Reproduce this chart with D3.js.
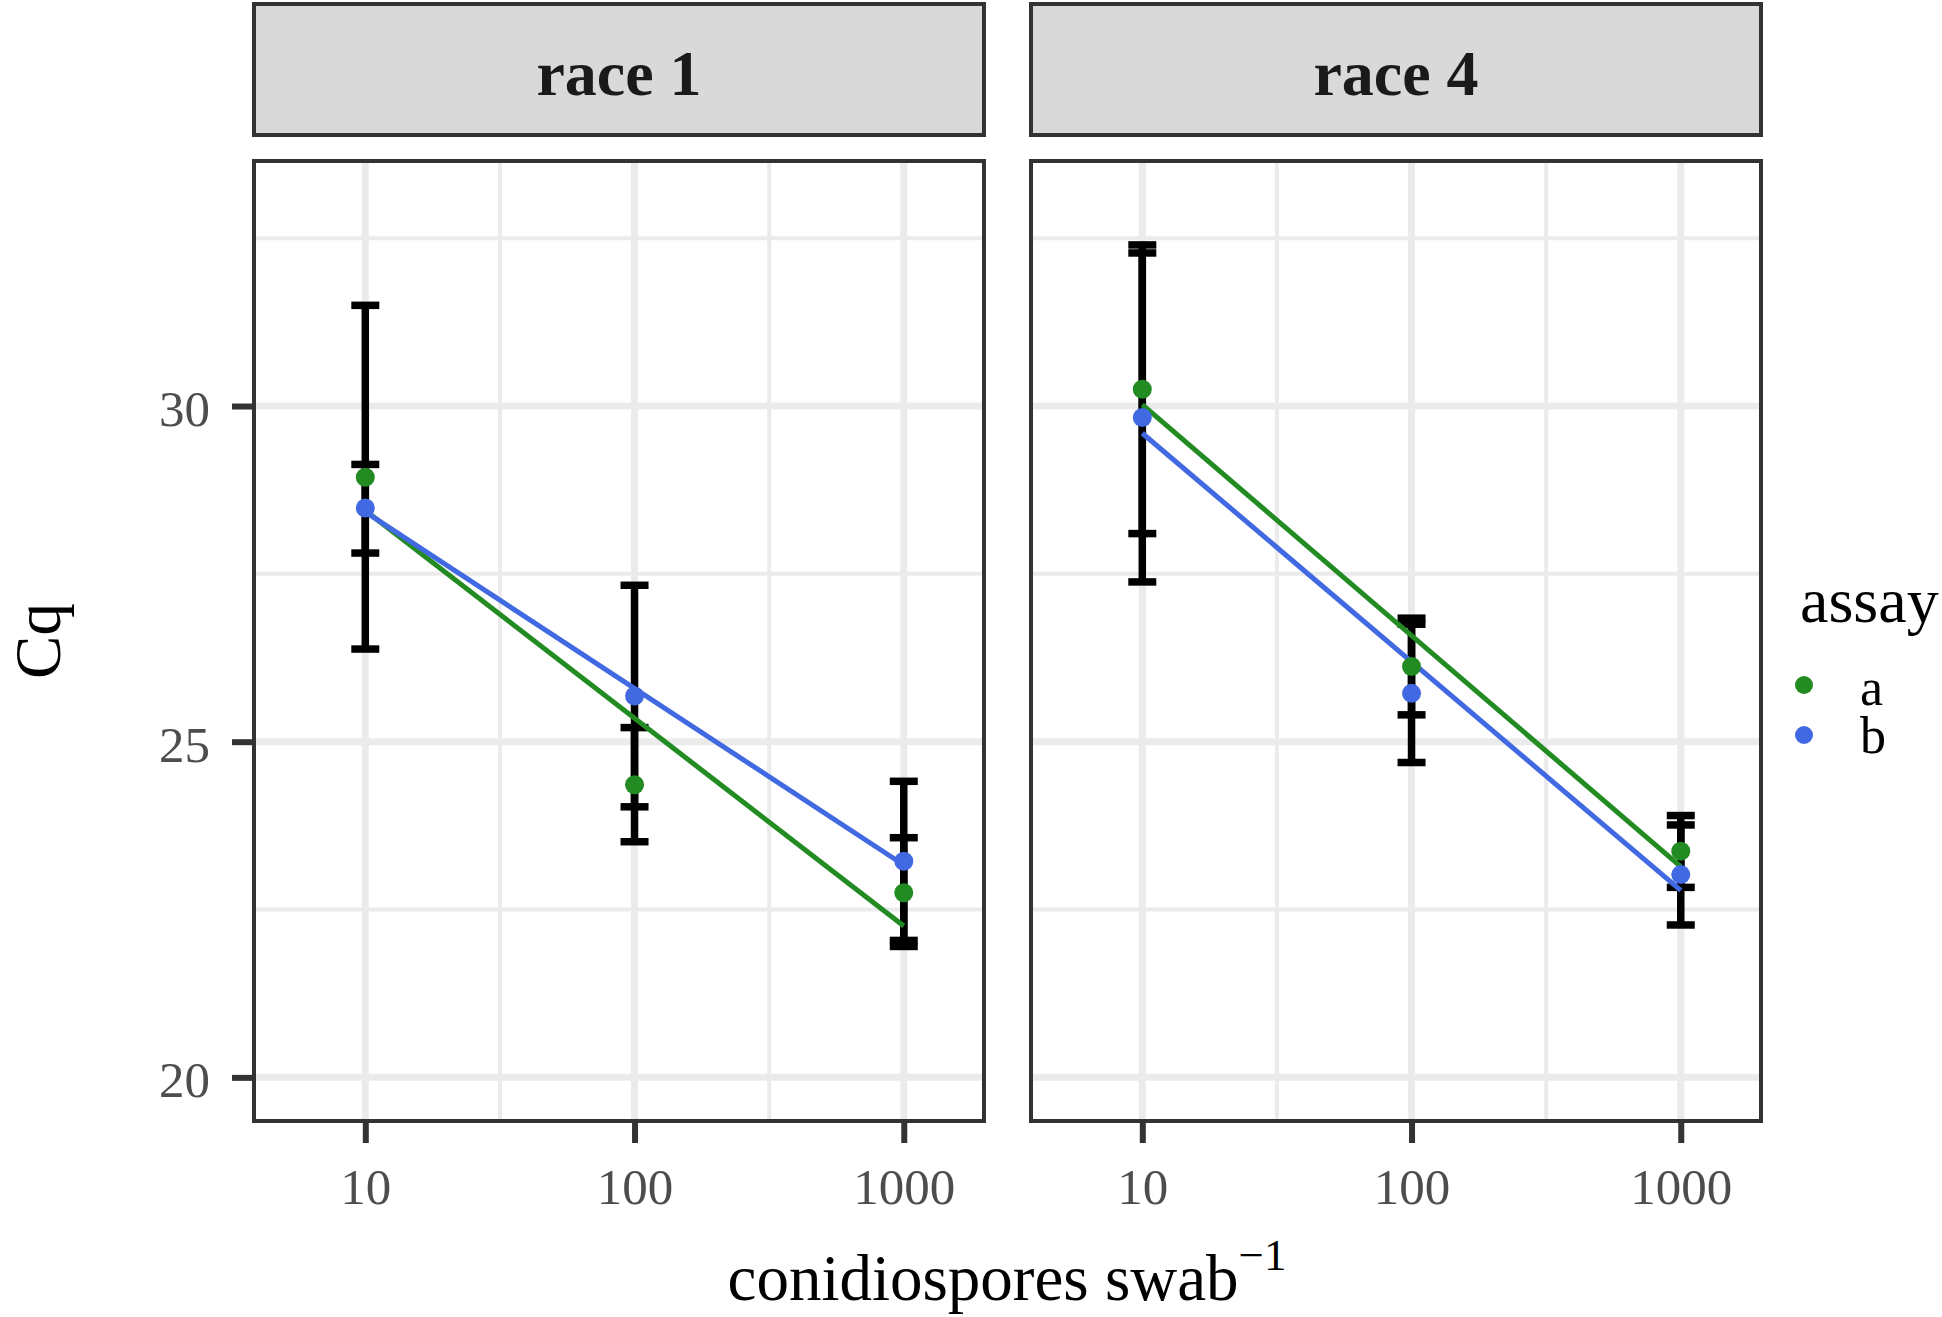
<!DOCTYPE html>
<html>
<head>
<meta charset="utf-8">
<script src="https://cdn.jsdelivr.net/npm/d3@7"></script>
<style>
  html, body { margin: 0; padding: 0; background: #fff; }
  svg { display: block; }
  text { font-family: "Liberation Serif", "Times New Roman", serif; }
</style>
</head>
<body>
<svg id="chart" width="1942" height="1317"></svg>
<script>
// ---------------- data ----------------
const races = ["race 1", "race 4"];
const assays = ["a", "b"];
const assayColors = ["#228B22", "#4169E1"];
const conc = [10, 100, 1000];
const xTickLabels = ["10", "100", "1000"];
const yTicks = [20, 25, 30];

// race 1
const race1_a_mean = [28.94, 24.36, 22.75];
const race1_a_lo   = [26.38, 23.51, 21.95];
const race1_a_hi   = [31.50, 25.21, 23.57];
const race1_b_mean = [28.48, 25.68, 23.22];
const race1_b_lo   = [27.81, 24.03, 22.04];
const race1_b_hi   = [29.13, 27.33, 24.41];
// race 4
const race4_a_mean = [30.25, 26.12, 23.37];
const race4_a_lo   = [28.10, 25.40, 22.83];
const race4_a_hi   = [32.40, 26.84, 23.90];
const race4_b_mean = [29.83, 25.72, 23.02];
const race4_b_lo   = [27.38, 24.69, 22.27];
const race4_b_hi   = [32.28, 26.75, 23.76];

const seriesTable = [
  { race: 0, assay: 0, mean: race1_a_mean, lo: race1_a_lo, hi: race1_a_hi },
  { race: 0, assay: 1, mean: race1_b_mean, lo: race1_b_lo, hi: race1_b_hi },
  { race: 1, assay: 0, mean: race4_a_mean, lo: race4_a_lo, hi: race4_a_hi },
  { race: 1, assay: 1, mean: race4_b_mean, lo: race4_b_lo, hi: race4_b_hi },
];

// ---------------- layout ----------------
const W = 1942, H = 1317;
const panelTop = 161, panelBottom = 1121;
const panelW = 730;
const panelLefts = [254, 1031];
const stripTop = 4, stripBottom = 135;
const tickLen = 22;
const gridCol = "#EBEBEB";
const borderCol = "#333333";

const svg = d3.select("#chart");
svg.append("rect").attr("width", W).attr("height", H).attr("fill", "#fff");

const y = d3.scaleLinear().domain([19.35, 33.65]).range([panelBottom, panelTop]);
const yMinor = [22.5, 27.5, 32.5];

// least squares of mean Cq on log10(conc), as a linear smoother
function lmFit(xs, ys) {
  const lx = xs.map(Math.log10);
  const mx = d3.mean(lx), my = d3.mean(ys);
  let sxy = 0, sxx = 0;
  lx.forEach((v, i) => { sxy += (v - mx) * (ys[i] - my); sxx += (v - mx) * (v - mx); });
  const b = sxy / sxx, a = my - b * mx;
  return v => a + b * Math.log10(v);
}

races.forEach((race, ri) => {
  const left = panelLefts[ri];
  const x = d3.scaleLog().domain([Math.pow(10, 0.5866), Math.pow(10, 3.298)]).range([left, left + panelW]);
  const xMinor = [Math.pow(10, 1.5), Math.pow(10, 2.5)];
  const g = svg.append("g");

  g.append("rect").attr("x", left).attr("y", panelTop).attr("width", panelW)
    .attr("height", panelBottom - panelTop).attr("fill", "#fff");

  // minor grid
  g.selectAll(".gmx").data(xMinor).join("line")
    .attr("x1", d => x(d)).attr("x2", d => x(d))
    .attr("y1", panelTop).attr("y2", panelBottom)
    .attr("stroke", gridCol).attr("stroke-width", 4);
  g.selectAll(".gmy").data(yMinor).join("line")
    .attr("x1", left).attr("x2", left + panelW)
    .attr("y1", d => y(d)).attr("y2", d => y(d))
    .attr("stroke", gridCol).attr("stroke-width", 4);
  // major grid
  g.selectAll(".gx").data(conc).join("line")
    .attr("x1", d => x(d)).attr("x2", d => x(d))
    .attr("y1", panelTop).attr("y2", panelBottom)
    .attr("stroke", gridCol).attr("stroke-width", 7);
  g.selectAll(".gy").data(yTicks).join("line")
    .attr("x1", left).attr("x2", left + panelW)
    .attr("y1", d => y(d)).attr("y2", d => y(d))
    .attr("stroke", gridCol).attr("stroke-width", 7);

  const ser = seriesTable.filter(s => s.race === ri);

  // error bars
  ser.forEach(s => {
    const eg = g.append("g").attr("stroke", "#000").attr("stroke-width", 7.5).attr("fill", "none");
    conc.forEach((c, i) => {
      const cx = x(c);
      eg.append("line").attr("x1", cx).attr("x2", cx).attr("y1", y(s.lo[i])).attr("y2", y(s.hi[i]));
      eg.append("line").attr("x1", cx - 14).attr("x2", cx + 14).attr("y1", y(s.lo[i])).attr("y2", y(s.lo[i]));
      eg.append("line").attr("x1", cx - 14).attr("x2", cx + 14).attr("y1", y(s.hi[i])).attr("y2", y(s.hi[i]));
    });
  });

  // fitted lines
  ser.forEach(s => {
    const f = lmFit(conc, s.mean);
    const ends = [conc[0], conc[conc.length - 1]];
    g.append("path")
      .attr("d", d3.line().x(d => x(d)).y(d => y(f(d)))(ends))
      .attr("stroke", assayColors[s.assay]).attr("stroke-width", 5).attr("fill", "none");
  });

  // points
  ser.forEach(s => {
    g.selectAll(null).data(conc).join("circle")
      .attr("cx", d => x(d)).attr("cy", (d, i) => y(s.mean[i]))
      .attr("r", 9.5).attr("fill", assayColors[s.assay]);
  });

  // panel border
  g.append("rect").attr("x", left).attr("y", panelTop).attr("width", panelW)
    .attr("height", panelBottom - panelTop).attr("fill", "none")
    .attr("stroke", borderCol).attr("stroke-width", 4);

  // strip
  g.append("rect").attr("x", left).attr("y", stripTop).attr("width", panelW)
    .attr("height", stripBottom - stripTop).attr("fill", "#D9D9D9")
    .attr("stroke", borderCol).attr("stroke-width", 4);
  g.append("text").attr("x", left + panelW / 2).attr("y", 95)
    .attr("text-anchor", "middle").attr("font-size", 64).attr("font-weight", "bold")
    .attr("fill", "#1A1A1A").text(race);

  // x axis
  const xa = svg.append("g").attr("transform", `translate(0,${panelBottom})`)
    .call(d3.axisBottom(x).tickValues(conc).tickFormat((d, i) => xTickLabels[i])
      .tickSize(tickLen).tickPadding(25));
  xa.select(".domain").remove();
  xa.selectAll(".tick line").attr("stroke", borderCol).attr("stroke-width", 6);
  xa.selectAll(".tick text").attr("font-size", 51).attr("fill", "#4D4D4D")
    .attr("font-family", "Liberation Serif, Times New Roman, serif");

  if (ri === 0) {
    const ya = svg.append("g").attr("transform", `translate(${left},0)`)
      .call(d3.axisLeft(y).tickValues(yTicks).tickFormat(d3.format("d"))
        .tickSize(tickLen).tickPadding(22));
    ya.select(".domain").remove();
    ya.selectAll(".tick line").attr("stroke", borderCol).attr("stroke-width", 6);
    ya.selectAll(".tick text").attr("font-size", 51).attr("fill", "#4D4D4D")
      .attr("dy", "0.38em")
      .attr("font-family", "Liberation Serif, Times New Roman, serif");
  }
});

// axis titles
svg.append("text").attr("transform", "translate(60,641) rotate(-90)")
  .attr("text-anchor", "middle").attr("font-size", 65).attr("fill", "#000").text("Cq");

const xt = svg.append("text").attr("x", 1007).attr("y", 1300)
  .attr("text-anchor", "middle").attr("font-size", 65).attr("fill", "#000");
xt.append("tspan").text("conidiospores swab");
xt.append("tspan").attr("dy", -30).attr("font-size", 45).text("\u22121");

// legend
const lg = svg.append("g");
lg.append("text").attr("x", 1800).attr("y", 622).attr("font-size", 64).attr("fill", "#000").text("assay");
lg.selectAll("circle").data(assays).join("circle")
  .attr("cx", 1804).attr("cy", (d, i) => 685 + i * 50)
  .attr("r", 9).attr("fill", (d, i) => assayColors[i]);
lg.selectAll(".lt").data(assays).join("text")
  .attr("x", 1860).attr("y", (d, i) => 705 + i * 48)
  .attr("font-size", 52).attr("fill", "#000").text(d => d);
</script>
</body>
</html>
